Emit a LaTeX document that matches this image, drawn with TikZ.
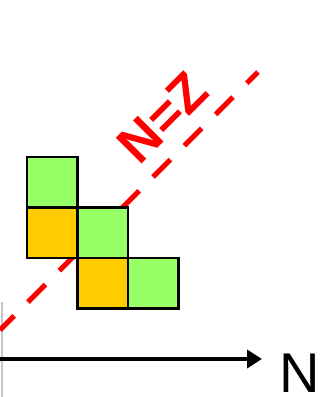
\documentclass[tikz,border=0pt]{standalone}
\usepackage{fontspec}
\setmainfont{Liberation Sans}
\usepackage{xcolor}
\usepackage{tikz}
\usetikzlibrary{arrows.meta,positioning}
\definecolor{cellgreen}{RGB}{153,255,102}
\definecolor{cellorange}{RGB}{255,204,0}
\definecolor{nzred}{RGB}{255,0,0}

\begin{document}
\begin{tikzpicture}[
  x=1pt, y=-1pt,
  cell/.style={draw, line width=2.5pt, minimum size=50.5pt, inner sep=0pt},
  lab/.style={inner sep=0pt, font=\fontsize{56}{56}\selectfont},
  diag/.style={draw=nzred, line width=5pt, dash pattern=on 24.7pt off 19.5pt, dash phase=4.6pt},
  arrow/.style={-{Triangle[length=15pt,width=18pt]}, line width=4.5pt}
]
\useasboundingbox (0,0) rectangle (327,397);
\draw[gray!45, line width=2pt] (1.5,302) -- (1.5,397);
% N=Z line, behind the cells
\coordinate (nzlo) at (0,330);
\coordinate (nzhi) at (258,72);
\draw[diag] (nzlo) -- (nzhi);
\node[cell, fill=cellgreen]  (c1) at (52.2,182.2) {};
\node[cell, fill=cellorange] (c2) at (52.2,232.7) {};
\node[cell, fill=cellgreen]  (c3) at (102.7,232.7) {};
\node[cell, fill=cellorange] (c4) at (102.7,283.2) {};
\node[cell, fill=cellgreen]  (c5) at (153.2,283.2) {};
\node[lab, text=nzred, rotate=45, font=\fontsize{53}{53}\selectfont\bfseries] (nz) at (163,118) {N=Z};
% N axis
\coordinate (origin) at (0,359);
\coordinate (axisend) at (262,359);
\draw[arrow] (origin) -- (axisend);
\node[lab, anchor=base west] (nlab) at (279,392) {N};
\end{tikzpicture}
\end{document}
